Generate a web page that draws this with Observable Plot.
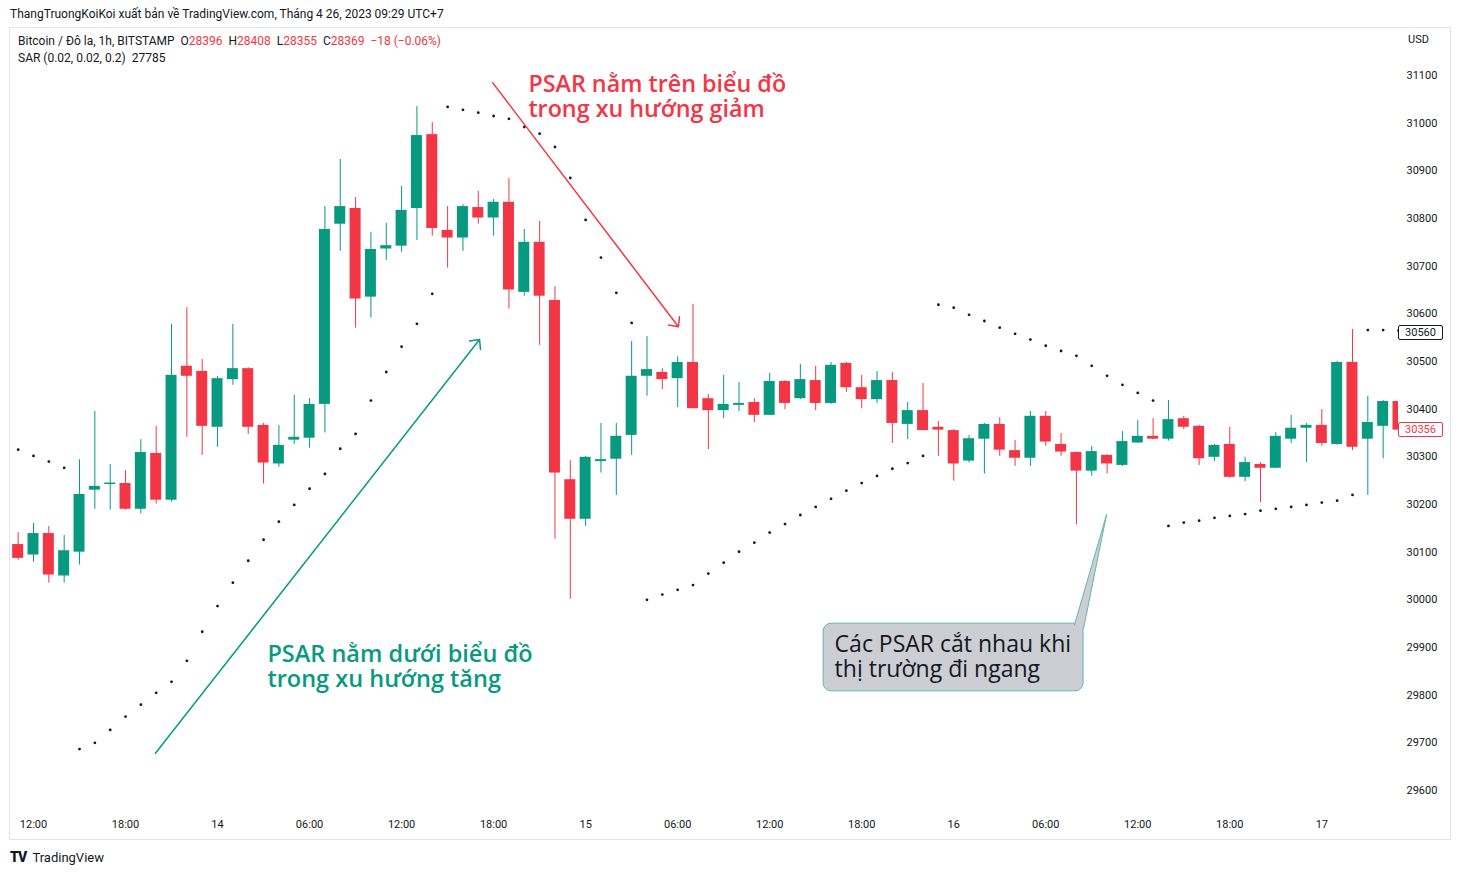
<!DOCTYPE html>
<html><head><meta charset="utf-8">
<script src="https://cdn.jsdelivr.net/npm/d3@7"></script>
<script src="https://cdn.jsdelivr.net/npm/@observablehq/plot@0.6"></script>
<style>
html,body{margin:0;padding:0;background:#fff;}
body{width:1460px;height:875px;position:relative;overflow:hidden;font-family:Roboto,"Noto Sans",sans-serif;color:#131722;}
#chart{position:absolute;left:0;top:0;}
.ov{position:absolute;white-space:pre;pointer-events:none;}
#frame{position:absolute;left:9px;top:27px;width:1440px;height:811px;border:1px solid #e0e3eb;pointer-events:none;}
.r{color:#f23645;}
.box{position:absolute;left:1398px;width:43px;height:13px;line-height:13px;font-size:11px;text-align:center;background:#fff;border-radius:2px;}
</style></head><body>
<div id="chart"></div>
<div id="frame"></div>
<div class="ov" style="left:10px;top:6px;font-size:12px;line-height:16px;">ThangTruongKoiKoi xuất bản về TradingView.com, Tháng 4 26, 2023 09:29 UTC+7</div>
<div class="ov" style="left:18px;top:34px;font-size:12px;line-height:15px;">Bitcoin / Đô la, 1h, BITSTAMP  O<span class="r">28396</span>  H<span class="r">28408</span>  L<span class="r">28355</span>  C<span class="r">28369</span>  <span class="r">−18 (−0.06%)</span></div>
<div class="ov" style="left:18px;top:51px;font-size:12px;line-height:15px;">SAR (0.02, 0.02, 0.2)  27785</div>
<div class="ov" style="left:1408px;top:33px;font-size:11px;line-height:14px;">USD</div>
<div class="ov" style="left:10px;top:849px;font-size:13px;line-height:16px;"><span style="font-weight:900;letter-spacing:-1px;font-size:14px;">TV</span>  TradingView</div>
<script>
// ---- data ----
const firstHour = "2023-04-13T11:00Z";
const lastHourExclusive = "2023-04-17T06:00Z";
const open = [30116,30094,30139,30050,30100,30230,30242,30244,30190,30307,30209,30490,30479,
30362,30462,30485,30366,30285,30335,30339,30410,30788,30821,30635,30736,30742,30821,30976,30775,30759,30823,30801,30834,30645,30750,30628,30252,
30169,30290,30295,30345,30469,30477,30464,30498,30422,30397,30408,30414,30387,30458,30422,30460,30412,30496,30445,30420,30460,30368,30397,30362,
30355,30291,30337,30368,30313,30297,30385,30326,30309,30270,30303,30282,30329,30343,30337,30380,30364,30299,30326,30257,30284,30276,30337,30360,
30366,30326,30498,30337,30364,30416];
const high = [30141,30160,30154,30135,30294,30395,30284,30271,30336,30364,30578,30613,30504,
30469,30578,30487,30370,30366,30429,30422,30825,30924,30844,30771,30790,30867,31035,31001,30825,30829,30857,30840,30884,30777,30794,30657,30292,
30301,30370,30370,30542,30552,30485,30510,30620,30431,30471,30456,30422,30475,30460,30494,30490,30498,30498,30471,30479,30477,30414,30454,30374,
30357,30345,30370,30382,30334,30395,30395,30349,30310,30322,30305,30353,30376,30380,30418,30385,30366,30326,30362,30299,30288,30351,30387,30370,
30399,30500,30567,30427,30418,30418];
const low = [30083,30079,30035,30035,30073,30190,30188,30188,30180,30201,30205,30341,30303,
30320,30450,30347,30243,30278,30326,30318,30350,30731,30570,30591,30712,30729,30754,30763,30696,30731,30788,30763,30610,30637,30534,30127,30001,
30154,30266,30219,30303,30427,30441,30403,30401,30315,30380,30395,30372,30387,30399,30420,30397,30410,30435,30401,30412,30328,30336,30355,30301,
30249,30287,30264,30301,30280,30280,30322,30301,30157,30259,30264,30280,30328,30336,30333,30357,30282,30290,30255,30248,30204,30275,30328,30288,
30322,30324,30313,30219,30296,30356];
const close = [30087,30139,30052,30103,30221,30238,30245,30190,30309,30209,30471,30469,30364,
30464,30485,30362,30287,30324,30341,30410,30777,30825,30631,30735,30743,30817,30974,30779,30759,30825,30801,30834,30650,30750,30637,30266,30169,
30299,30294,30343,30469,30483,30462,30498,30401,30397,30410,30412,30387,30458,30412,30462,30412,30492,30445,30420,30460,30370,30397,30355,30356,
30285,30338,30368,30314,30297,30385,30331,30310,30270,30311,30285,30332,30343,30337,30378,30362,30296,30324,30257,30288,30276,30343,30360,30366,
30328,30498,30320,30372,30416,30356];
const sar = [30315,30302,30290,30277,
29687,29700,29727,29755,29780,29805,29828,29872,29933,29987,30036,30082,30126,30164,30199,30233,30264,30317,30348,30418,30478,30531,30579,30642,
31034,31028,31022,31015,31009,30992,30978,30950,30885,30797,30718,30644,30581,
30000,30011,30021,30031,30055,30078,30101,30120,30141,30159,30178,30195,30212,30229,30245,30260,30275,30287,30302,
30619,30613,30598,30585,30571,30558,30546,30533,30522,30512,30491,30470,30451,30434,30418,
30155,30162,30166,30172,30176,30180,30187,30191,30195,30199,30204,30208,30220,
30566,30566,30565];
const yTicks = [29600,29700,29800,29900,30000,30100,30200,30300,30400,30500,30600,30700,30800,30900,31000,31100];
const xTicks = ["2023-04-13T12:00Z","2023-04-13T18:00Z","2023-04-14T00:00Z","2023-04-14T06:00Z","2023-04-14T12:00Z","2023-04-14T18:00Z",
"2023-04-15T00:00Z","2023-04-15T06:00Z","2023-04-15T12:00Z","2023-04-15T18:00Z","2023-04-16T00:00Z","2023-04-16T06:00Z",
"2023-04-16T12:00Z","2023-04-16T18:00Z","2023-04-17T00:00Z"];
const xDomain = ["2023-04-13T10:30Z","2023-04-17T05:00Z"];
const yDomain = [29550, 31200];
const lastLabels = [{value:30560, label:"30560", kind:"sar"},{value:30356, label:"30356", kind:"price"}];
// annotations (data coordinates)
const greenNote = [{t:"2023-04-14T03:15Z", p:29861, text:"PSAR nằm dưới biểu đồ\ntrong xu hướng tăng"}];
const redNote = [{t:"2023-04-14T20:16Z", p:31055, text:"PSAR nằm trên biểu đồ\ntrong xu hướng giảm"}];
const grayNote = [{t:"2023-04-15T16:14Z", p:29882, text:"Các PSAR cắt nhau khi\nthị trường đi ngang"}];
const greenArrow = [{t1:"2023-04-13T19:57Z", p1:29678, t2:"2023-04-14T17:05Z", p2:30546}];
const redArrow = [{t1:"2023-04-14T17:56Z", p1:31085, t2:"2023-04-15T06:03Z", p2:30573}];
const calloutBox = [{t1:"2023-04-15T15:31Z", t2:"2023-04-16T08:28Z", p1:29950, p2:29808}];
const calloutTail = [{t:"2023-04-16T07:52Z", p:29947},{t:"2023-04-16T09:58Z", p:30179},{t:"2023-04-16T08:28Z", p:29940}];

// ---- build ----
const D = s => new Date(s);
const times = d3.utcHour.range(D(firstHour), D(lastHourExclusive));
const candles = times.map((t,i)=>({t, o:open[i], h:high[i], l:low[i], c:close[i], s:sar[i]}));
const GREEN = "#089981", RED = "#f23645";
const colorOf = d => d.c >= d.o ? GREEN : RED;
const half = 21.5*60*1000;
const P = a => a.map(d => Object.fromEntries(Object.entries(d).map(([k,v]) => [k, /^t\d?$/.test(k) ? D(v) : v])));

const chart = Plot.plot({
  width:1460, height:875,
  marginLeft:10, marginRight:62, marginTop:27.33, marginBottom:61.17,
  style:{fontFamily:"Roboto", fontSize:"11px", color:"#131722", background:"#fff"},
  x:{type:"utc", domain:xDomain.map(D), ticks:xTicks.map(D),
     tickFormat: d => d.getUTCHours()===0 ? String(d.getUTCDate()) : d3.utcFormat("%H:%M")(d),
     tickSize:0, tickPadding:6, label:null},
  y:{domain:yDomain, ticks:yTicks, tickFormat:"d", tickSize:0, tickPadding:8, label:null, axis:"right"},
  color:{type:"identity"},
  marks:[
    Plot.ruleX(candles, {x:"t", y1:"l", y2:"h", stroke:colorOf, strokeWidth:1, clip:true}),
    Plot.rect(candles, {x1:d=>new Date(+d.t - half), x2:d=>new Date(+d.t + half), y1:"o", y2:"c", fill:colorOf, clip:true}),
    Plot.dot(candles, {x:"t", y:"s", r:1.4, fill:"#131722", stroke:null, clip:true}),
    Plot.arrow(P(greenArrow), {x1:"t1", y1:"p1", x2:"t2", y2:"p2", stroke:GREEN, strokeWidth:1.5, headLength:10, headAngle:87}),
    Plot.arrow(P(redArrow), {x1:"t1", y1:"p1", x2:"t2", y2:"p2", stroke:RED, strokeWidth:1.5, headLength:10, headAngle:87}),
    Plot.text(P(greenNote), {x:"t", y:"p", text:"text", textAnchor:"start", lineAnchor:"middle", lineHeight:1.07,
      fontSize:23.5, fontWeight:600, fontFamily:"Open Sans", fill:GREEN}),
    Plot.text(P(redNote), {x:"t", y:"p", text:"text", textAnchor:"start", lineAnchor:"middle", lineHeight:1.07,
      fontSize:23.3, fontWeight:600, fontFamily:"Open Sans", fill:RED}),
    Plot.rect(P(calloutBox), {x1:"t1", x2:"t2", y1:"p1", y2:"p2", fill:"#cdced4", stroke:"#62b6ac", strokeWidth:1, rx:8}),
    Plot.line(P(calloutTail), {x:"t", y:"p", fill:"#cdced4", stroke:"#62b6ac", strokeWidth:1, curve:"linear"}),
    Plot.text(P(grayNote), {x:"t", y:"p", text:"text", textAnchor:"start", lineAnchor:"middle", lineHeight:1.09,
      fontSize:23, fontFamily:"Open Sans", fill:"#131722"})
  ]
});
document.getElementById("chart").appendChild(chart);

const ys = chart.scale("y");
for (const l of lastLabels) {
  const y = ys.apply(l.value);
  const div = document.createElement("div");
  div.className = "box";
  div.textContent = l.label;
  div.style.top = (y - 7.5) + "px";
  if (l.kind === "sar") { div.style.border = "1px solid #131722"; div.style.color = "#131722"; }
  else { div.style.border = "1px solid #f23645"; div.style.color = "#f23645"; }
  document.body.appendChild(div);
}
</script>
</body></html>
